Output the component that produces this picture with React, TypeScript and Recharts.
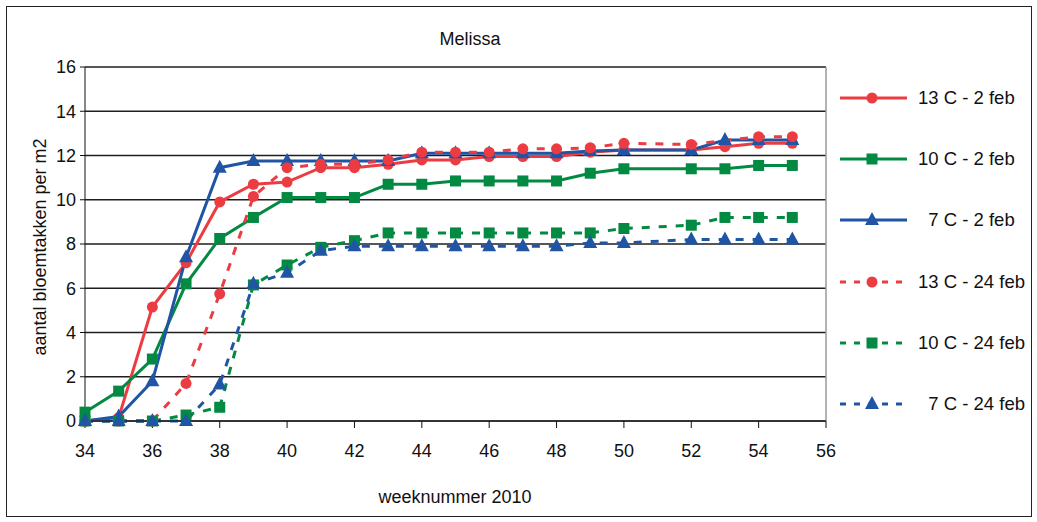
import React from 'react';
import { LineChart, Line, XAxis, YAxis, CartesianGrid, ReferenceLine } from 'recharts';

// weeknummers (week 51 is niet gemeten)
const weeks = [34, 35, 36, 37, 38, 39, 40, 41, 42, 43, 44, 45, 46, 47, 48, 49, 50, 52, 53, 54, 55];

// bloemtakken per m2, planting 2 februari
const t13feb2 = [0, 0.15, 5.15, 7.15, 9.9, 10.7, 10.8, 11.45, 11.45, 11.6, 11.8, 11.8, 11.95, 11.95, 11.95, 12.15, 12.25, 12.25, 12.4, 12.55, 12.55];
const t10feb2 = [0.4, 1.35, 2.8, 6.2, 8.25, 9.2, 10.1, 10.1, 10.1, 10.7, 10.7, 10.85, 10.85, 10.85, 10.85, 11.2, 11.4, 11.4, 11.4, 11.55, 11.55];
const t7feb2 = [0, 0.2, 1.8, 7.4, 11.45, 11.75, 11.75, 11.75, 11.75, 11.75, 12.1, 12.1, 12.1, 12.1, 12.1, 12.2, 12.25, 12.25, 12.7, 12.7, 12.7];

// bloemtakken per m2, planting 24 februari
const t13feb24 = [0, 0, 0, 1.7, 5.75, 10.15, 11.45, 11.6, 11.6, 11.8, 12.15, 12.15, 12.15, 12.3, 12.3, 12.35, 12.55, 12.5, null, 12.85, 12.85];
const t10feb24 = [0, 0, 0, 0.27, 0.62, 6.15, 7.05, 7.85, 8.15, 8.5, 8.5, 8.5, 8.5, 8.5, 8.5, 8.5, 8.7, 8.85, 9.2, 9.2, 9.2];
const t7feb24 = [0, 0, 0, 0, 1.65, 6.2, 6.7, 7.7, 7.9, 7.9, 7.9, 7.9, 7.9, 7.9, 7.9, 8.05, 8.05, 8.2, 8.2, 8.2, 8.2];

const yTicks = [0, 2, 4, 6, 8, 10, 12, 14, 16];
const xTicks = [34, 36, 38, 40, 42, 44, 46, 48, 50, 52, 54, 56];

const RED = '#ec3c42';
const GREEN = '#038a42';
const BLUE = '#2055a6';
const FONT = '"Liberation Sans", Arial, Helvetica, sans-serif';

type Shape = 'circle' | 'square' | 'triangle';

interface Serie {
  key: string;
  name: string;
  values: (number | null)[];
  color: string;
  dashed: boolean;
  shape: Shape;
}

const series: Serie[] = [
  { key: 's13_2', name: '13 C - 2 feb', values: t13feb2, color: RED, dashed: false, shape: 'circle' },
  { key: 's10_2', name: '10 C - 2 feb', values: t10feb2, color: GREEN, dashed: false, shape: 'square' },
  { key: 's7_2', name: '\u20077 C - 2 feb', values: t7feb2, color: BLUE, dashed: false, shape: 'triangle' },
  { key: 's13_24', name: '13 C - 24 feb', values: t13feb24, color: RED, dashed: true, shape: 'circle' },
  { key: 's10_24', name: '10 C - 24 feb', values: t10feb24, color: GREEN, dashed: true, shape: 'square' },
  { key: 's7_24', name: '\u20077 C - 24 feb', values: t7feb24, color: BLUE, dashed: true, shape: 'triangle' },
];

const data = weeks.map((week, i) => {
  const row: Record<string, number | null> = { week };
  series.forEach((s) => {
    row[s.key] = s.values[i];
  });
  return row;
});

const DASH = '8 9';

const Marker = ({ cx, cy, shape, color }: { cx: number; cy: number; shape: Shape; color: string }) => {
  if (shape === 'circle') return <circle cx={cx} cy={cy} r={5.5} fill={color} />;
  if (shape === 'square') return <rect x={cx - 5.5} y={cy - 5.5} width={11} height={11} fill={color} />;
  return <polygon points={`${cx},${cy - 8} ${cx + 7},${cy + 5} ${cx - 7},${cy + 5}`} fill={color} />;
};

const LegendBox = () => (
  <div style={{ position: 'absolute', left: 838, top: 0 }}>
    {series.map((s, i) => {
      const y = 98 + i * 61.2;
      return (
        <div key={s.key} style={{ position: 'absolute', top: y - 12, left: 0, width: 200, height: 24, display: 'flex', alignItems: 'center' }}>
          <svg width={72} height={24}>
            <line x1={2} y1={12} x2={69} y2={12} stroke={s.color} strokeWidth={3} strokeDasharray={s.dashed ? '6 8' : undefined} />
            <Marker cx={34} cy={12} shape={s.shape} color={s.color} />
          </svg>
          <span style={{ marginLeft: 8, fontFamily: FONT, fontSize: 18.5, color: '#111', whiteSpace: 'pre' }}>{s.name}</span>
        </div>
      );
    })}
  </div>
);

export default function App() {
  return (
    <div style={{ position: 'absolute', left: 0, top: 0, width: 1037, height: 522, background: '#fff' }}>
      <div style={{ position: 'absolute', left: 6, top: 6, width: 1024, height: 509, border: '1.5px solid #222' }} />
      <div style={{ position: 'absolute', left: 0, width: 940, top: 29, textAlign: 'center', fontFamily: FONT, fontSize: 18, color: '#111' }}>
        Melissa
      </div>
      <LineChart width={1037} height={522} data={data} margin={{ top: 67, right: 211, left: 35, bottom: 71 }}>
        <CartesianGrid vertical={false} stroke="#1e1e1e" strokeWidth={1.3} />
        <XAxis
          dataKey="week"
          type="number"
          domain={[34, 56]}
          ticks={xTicks}
          height={30}
          stroke="#111"
          tickSize={7}
          tickMargin={16}
          tick={{ fill: '#111', fontSize: 18, fontFamily: FONT }}
          allowDecimals={false}
        />
        <YAxis
          domain={[0, 16]}
          ticks={yTicks}
          width={50}
          stroke="#111"
          tickSize={5}
          tickMargin={4}
          tick={{ fill: '#111', fontSize: 18, fontFamily: FONT }}
        />
        <ReferenceLine x={56} stroke="#9a9a9a" strokeWidth={1.5} />
        {series.map((s) => (
          <Line
            key={s.key}
            dataKey={s.key}
            name={s.name}
            type="linear"
            stroke={s.color}
            strokeWidth={3}
            strokeDasharray={s.dashed ? DASH : undefined}
            connectNulls
            isAnimationActive={false}
            activeDot={false}
            dot={(p: any) =>
              p.cx == null || p.cy == null || p.value == null ? (
                <g key={`${s.key}-${p.index}`} />
              ) : (
                <Marker key={`${s.key}-${p.index}`} cx={p.cx} cy={p.cy} shape={s.shape} color={s.color} />
              )
            }
          />
        ))}
      </LineChart>
      <div
        style={{
          position: 'absolute',
          left: 40,
          top: 247,
          transform: 'translate(-50%, -50%) rotate(-90deg)',
          whiteSpace: 'nowrap',
          fontFamily: FONT,
          fontSize: 18,
          color: '#111',
        }}
      >
        aantal bloemtakken per m2
      </div>
      <div style={{ position: 'absolute', left: 0, width: 910, top: 487, textAlign: 'center', fontFamily: FONT, fontSize: 18, color: '#111' }}>
        weeknummer 2010
      </div>
      <LegendBox />
    </div>
  );
}
